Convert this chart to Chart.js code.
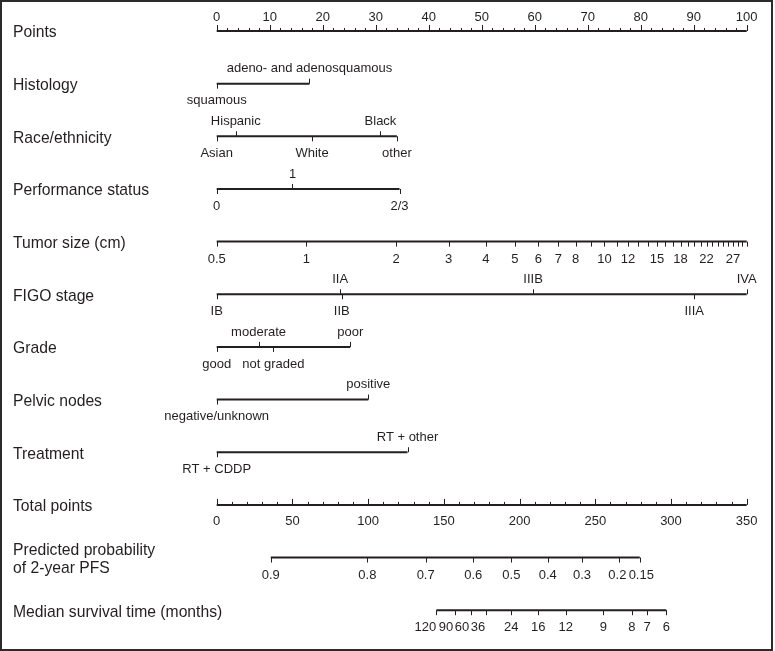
<!DOCTYPE html>
<html>
<head>
<meta charset="utf-8">
<title>Nomogram</title>
<script src="https://cdn.jsdelivr.net/npm/chart.js@4.4.0/dist/chart.umd.min.js"></script>
<style>
    html, body { margin: 0; padding: 0; background: #fff; }
    #wrap { position: relative; width: 775px; height: 651px; }
    #nomo { position: absolute; left: 0; top: 0; }
    #frame {
        position: absolute; left: 0; top: 0; width: 773px; height: 651px;
        box-sizing: border-box; border: 2px solid #2b2b2b; pointer-events: none;
    }
</style>
</head>
<body>
<div id="wrap">
    <canvas id="nomo" width="775" height="651"></canvas>
    <div id="frame"></div>
</div>
<script>
// Row names, top to bottom
const rowNames = [
    'Points',
    'Histology',
    'Race/ethnicity',
    'Performance status',
    'Tumor size (cm)',
    'FIGO stage',
    'Grade',
    'Pelvic nodes',
    'Treatment',
    'Total points',
    ['Predicted probability', 'of 2-year PFS'],
    'Median survival time (months)'
];

// Points scale (0 - 100)
const pointsTicks = [0, 10, 20, 30, 40, 50, 60, 70, 80, 90, 100];
const pointsMinorStep = 2;

// Factor rows: labels and the points they are worth
const histologyLabels = ['squamous', 'adeno- and adenosquamous'];
const histologyPoints = [0, 17.5];

const raceLabels = ['Asian', 'Hispanic', 'White', 'Black', 'other'];
const racePoints = [0, 3.6, 18.0, 30.9, 34.0];

const perfLabels = ['0', '1', '2/3'];
const perfPoints = [0, 14.3, 34.5];

const figoLabels = ['IB', 'IIA', 'IIB', 'IIIB', 'IIIA', 'IVA'];
const figoPoints = [0, 23.3, 23.6, 59.7, 90.1, 100];

const gradeLabels = ['good', 'moderate', 'not graded', 'poor'];
const gradePoints = [0, 7.9, 10.7, 25.2];

const nodeLabels = ['negative/unknown', 'positive'];
const nodePoints = [0, 28.6];

const treatLabels = ['RT + CDDP', 'RT + other'];
const treatPoints = [0, 36.0];

// Tumor size (cm), log scale from 0.5 to 30
const tumorLabeled = [0.5, 1, 2, 3, 4, 5, 6, 7, 8, 10, 12, 15, 18, 22, 27];
const tumorUnlabeled = [9, 11, 13, 14, 16, 17, 19, 20, 21, 23, 24, 25, 26, 28, 29, 30];

// Total points scale (0 - 350)
const totalTicks = [0, 50, 100, 150, 200, 250, 300, 350];
const totalMinorStep = 10;

// Predicted 2-year PFS, positioned on total points
const probLabels = ['0.9', '0.8', '0.7', '0.6', '0.5', '0.4', '0.3', '0.2', '0.15'];
const probTotalPoints = [35.7, 99.5, 138.0, 169.4, 194.6, 218.6, 241.2, 265.9, 279.4];

// Median survival time (months), positioned on total points
const survLabels = ['120', '90', '60', '36', '24', '16', '12', '9', '8', '7', '6'];
const survTotalPoints = [145.1, 157.3, 167.9, 177.9, 194.5, 212.4, 230.5, 255.3, 274.1, 284.2, 296.9];

// crowded labels are nudged sideways (px) so they do not collide
const probLabelNudge = [0, 0, 0, 0, 0, 0, 0, -2, 1.5];
const survLabelNudge = [-11, -9, -9, -8, 0, 0, 0, 0, 0, 0, 0];

const ink = '#231f20';
const fontFamily = '"Liberation Sans", Arial, Helvetica, sans-serif';

// one straight segment per row
function segment(row, from, to, axis) {
    return {
        data: [{ x: from, y: row }, { x: to, y: row }],
        xAxisID: axis,
        showLine: true,
        borderColor: ink,
        borderWidth: 2,
        pointRadius: 0,
        clip: false
    };
}

function tick(ctx, x, y, len) {
    const px = Math.round(x) + 0.5;
    ctx.beginPath();
    ctx.moveTo(px, y);
    ctx.lineTo(px, y + len);
    ctx.stroke();
}

// labels alternate below / above the line in order of their value
function drawFactor(ctx, scale, y, labels, values) {
    const order = values.map((v, i) => i).sort((a, b) => values[a] - values[b]);
    order.forEach((idx, k) => {
        const up = k % 2 === 1;
        const x = scale.getPixelForValue(values[idx]);
        tick(ctx, x, y, up ? -5 : 5);
        ctx.fillText(labels[idx], x, up ? y - 15 : y + 17);
    });
}

const nomogramMarks = {
    id: 'nomogramMarks',
    afterDatasetsDraw(chart) {
        const { ctx, scales } = chart;
        const yOf = (row) => scales.y.getPixelForValue(row);
        ctx.save();
        ctx.strokeStyle = ink;
        ctx.fillStyle = ink;
        ctx.lineWidth = 1;

        // row names, left aligned
        ctx.font = '15.7px ' + fontFamily;
        ctx.textAlign = 'left';
        ctx.textBaseline = 'middle';
        rowNames.forEach((name, row) => {
            const lines = Array.isArray(name) ? name : [name];
            const y0 = yOf(row) + 2 - (lines.length - 1) * 17.5 / 2;
            lines.forEach((line, k) => ctx.fillText(line, 13, y0 + k * 17.5));
        });

        ctx.font = '13px ' + fontFamily;
        ctx.textAlign = 'center';

        // Points axis, ticks hang upward
        let y = yOf(0);
        for (let v = pointsTicks[0]; v <= pointsTicks[pointsTicks.length - 1]; v += pointsMinorStep) {
            const major = pointsTicks.includes(v);
            tick(ctx, scales.x.getPixelForValue(v), y, major ? -6 : -3);
        }
        pointsTicks.forEach(v => ctx.fillText(String(v), scales.x.getPixelForValue(v), y - 14));

        drawFactor(ctx, scales.x, yOf(1), histologyLabels, histologyPoints);
        drawFactor(ctx, scales.x, yOf(2), raceLabels, racePoints);
        drawFactor(ctx, scales.x, yOf(3), perfLabels, perfPoints);

        // Tumor size
        y = yOf(4);
        tumorLabeled.concat(tumorUnlabeled).forEach(v => tick(ctx, scales.xSize.getPixelForValue(v), y, 5));
        tumorLabeled.forEach(v => ctx.fillText(String(v), scales.xSize.getPixelForValue(v), y + 18));

        drawFactor(ctx, scales.x, yOf(5), figoLabels, figoPoints);
        drawFactor(ctx, scales.x, yOf(6), gradeLabels, gradePoints);
        drawFactor(ctx, scales.x, yOf(7), nodeLabels, nodePoints);
        drawFactor(ctx, scales.x, yOf(8), treatLabels, treatPoints);

        // Total points
        y = yOf(9);
        for (let v = totalTicks[0]; v <= totalTicks[totalTicks.length - 1]; v += totalMinorStep) {
            const major = totalTicks.includes(v);
            tick(ctx, scales.xTot.getPixelForValue(v), y, major ? -6 : -3);
        }
        totalTicks.forEach(v => ctx.fillText(String(v), scales.xTot.getPixelForValue(v), y + 17));

        // Predicted probability
        y = yOf(10);
        probTotalPoints.forEach((v, i) => {
            const x = scales.xTot.getPixelForValue(v);
            tick(ctx, x, y, 5);
            ctx.fillText(probLabels[i], x + probLabelNudge[i], y + 18);
        });

        // Median survival
        y = yOf(11);
        survTotalPoints.forEach((v, i) => {
            const x = scales.xTot.getPixelForValue(v);
            tick(ctx, x, y, 5);
            ctx.fillText(survLabels[i], x + survLabelNudge[i], y + 17);
        });

        ctx.restore();
    }
};

const datasets = [
    segment(0, pointsTicks[0], pointsTicks[pointsTicks.length - 1], 'x'),
    segment(1, Math.min(...histologyPoints), Math.max(...histologyPoints), 'x'),
    segment(2, Math.min(...racePoints), Math.max(...racePoints), 'x'),
    segment(3, Math.min(...perfPoints), Math.max(...perfPoints), 'x'),
    segment(4, tumorLabeled[0], Math.max(...tumorUnlabeled), 'xSize'),
    segment(5, Math.min(...figoPoints), Math.max(...figoPoints), 'x'),
    segment(6, Math.min(...gradePoints), Math.max(...gradePoints), 'x'),
    segment(7, Math.min(...nodePoints), Math.max(...nodePoints), 'x'),
    segment(8, Math.min(...treatPoints), Math.max(...treatPoints), 'x'),
    segment(9, totalTicks[0], totalTicks[totalTicks.length - 1], 'xTot'),
    segment(10, probTotalPoints[0], probTotalPoints[probTotalPoints.length - 1], 'xTot'),
    segment(11, survTotalPoints[0], survTotalPoints[survTotalPoints.length - 1], 'xTot')
];

new Chart(document.getElementById('nomo'), {
    type: 'scatter',
    data: { datasets },
    plugins: [nomogramMarks],
    options: {
        responsive: false,
        animation: false,
        devicePixelRatio: 1,
        layout: { padding: { left: 216.7, right: 28.3, top: 31, bottom: 40.8 } },
        plugins: { legend: { display: false }, tooltip: { enabled: false } },
        scales: {
            x: { type: 'linear', min: 0, max: 100, display: false },
            xTot: { type: 'linear', axis: 'x', min: 0, max: 350, display: false },
            xSize: { type: 'logarithmic', axis: 'x', min: 0.5, max: 30, display: false },
            y: { type: 'linear', min: 0, max: rowNames.length - 1, reverse: true, display: false }
        }
    }
});
</script>
</body>
</html>
